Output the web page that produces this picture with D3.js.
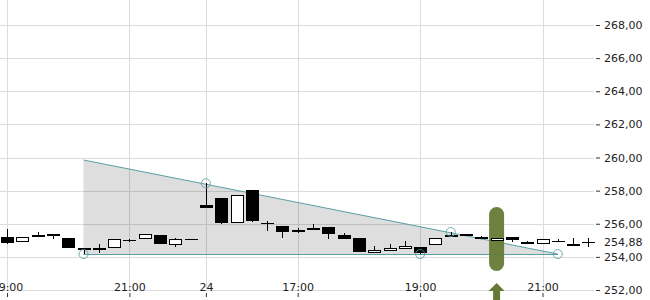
<!DOCTYPE html>
<html>
<head>
<meta charset="utf-8">
<script src="https://cdn.jsdelivr.net/npm/d3@7"></script>
<style>
  body { margin: 0; background: #fff; }
  svg { display: block; font-family: "DejaVu Sans", sans-serif; }
</style>
</head>
<body>
<svg id="chart"></svg>
<script>
// 15 minute candles, 23rd 19:00 .. 24th 21:45
const opens  = [255.18,254.89,255.18,255.38,255.12,254.54,254.40,254.52,255.00,255.06,255.32,254.74,255.06,
                257.13,257.54,256.03,258.04,256.03,255.86,255.62,255.60,255.82,255.32,255.16,254.25,254.34,254.46,
                254.61,254.72,255.32,255.36,255.20,254.98,255.18,254.90,254.76,254.96,254.78,254.88];
const highs  = [255.66,255.18,255.52,255.38,255.12,254.54,254.78,255.06,255.06,255.38,255.32,255.14,255.06,
                258.44,257.54,257.74,258.04,256.17,255.86,255.74,255.97,255.82,255.46,255.16,254.66,254.78,254.96,
                254.61,255.12,255.52,255.40,255.28,255.14,255.18,254.98,255.06,255.08,255.12,255.12];
const lows   = [254.78,254.89,255.18,255.06,254.55,254.18,254.25,254.52,254.92,255.06,254.76,254.61,255.06,
                256.93,255.97,256.03,256.09,255.58,255.16,255.42,255.60,255.06,255.06,254.31,254.25,254.34,254.46,
                254.20,254.72,255.22,255.26,255.06,254.98,254.92,254.76,254.76,254.96,254.67,254.61];
const closes = [254.86,255.18,255.32,255.24,254.55,254.40,254.55,255.06,254.99,255.38,254.76,255.08,255.06,
                256.93,256.03,257.74,256.18,256.00,255.52,255.50,255.73,255.36,255.06,254.31,254.42,254.52,254.67,
                254.25,255.12,255.22,255.28,255.06,255.14,255.02,254.76,255.06,254.96,254.67,254.88];

const xTickIdx = [0, 8, 13, 19, 27, 35];
const xTickLabels = ["19:00", "21:00", "24", "17:00", "19:00", "21:00"];
const yTicks = [252, 254, 256, 258, 260, 262, 264, 266, 268];
const lastPrice = 254.88;

// descending triangle
const triStart = 5, triEnd = 36;
const triTop = [259.85, 254.17];
const triBase = 254.17;
const anchorIdx = [5, 13, 27, 29, 36];
const anchorVals = [254.17, 258.44, 254.17, 255.50, 254.17];

// signal marker
const signalIdx = 32;
const signalRange = [253.15, 257.01];

const w = 650, h = 300;
const svg = d3.select("#chart").attr("width", w).attr("height", h);

const x = d3.scaleLinear().domain([0, opens.length - 1]).range([7, 588.4]);
const y = d3.scaleLinear().domain([252, 268]).range([290, 25]);
const fmt = (v) => d3.format(".2f")(v).replace(".", ",");
const teal = "#5a9ea6";
const olive = "#667a35";

// grid
svg.append("g").selectAll("line").data(yTicks).enter().append("line")
  .attr("x1", 0).attr("x2", 594)
  .attr("y1", (d) => Math.round(y(d)) + 0.5).attr("y2", (d) => Math.round(y(d)) + 0.5)
  .attr("stroke", "#dcdcdc");
svg.append("g").selectAll("line").data(xTickIdx).enter().append("line")
  .attr("x1", (d) => Math.round(x(d)) + 0.5).attr("x2", (d) => Math.round(x(d)) + 0.5)
  .attr("y1", 0).attr("y2", 290)
  .attr("stroke", "#dcdcdc");

// right axis
const yAxis = d3.axisRight(y).tickValues(yTicks).tickSize(4).tickPadding(4).tickFormat(fmt);
const ya = svg.append("g").attr("transform", "translate(596,0)").call(yAxis);
ya.select(".domain").remove();
ya.selectAll("line").attr("stroke", "#333");
ya.selectAll("text").attr("font-size", 11).attr("fill", "#222").attr("font-family", "DejaVu Sans");

svg.append("text").attr("x", 604).attr("y", y(lastPrice)).attr("dy", "0.32em")
  .attr("font-size", 11).attr("fill", "#222").text(fmt(lastPrice));

// bottom axis
const xAxis = d3.axisBottom(x).tickValues(xTickIdx).tickSize(4).tickPadding(0)
  .tickFormat((d, i) => xTickLabels[i]);
const xa = svg.append("g").attr("transform", "translate(0,293)").call(xAxis);
xa.select(".domain").remove();
xa.selectAll("line").attr("stroke", "#333");
xa.selectAll("text").attr("font-size", 11).attr("fill", "#222").attr("font-family", "DejaVu Sans")
  .attr("y", -2).attr("dy", 0);

// triangle
const triPts = [
  [x(triStart), y(triTop[0])],
  [x(triEnd), y(triTop[1])],
  [x(triEnd), y(triBase)],
  [x(triStart), y(triBase)]
];
svg.append("path").attr("d", d3.line()(triPts) + "Z").attr("fill", "#000").attr("fill-opacity", 0.13);
svg.append("line")
  .attr("x1", x(triStart)).attr("y1", y(triTop[0])).attr("x2", x(triEnd)).attr("y2", y(triTop[1]))
  .attr("stroke", teal).attr("stroke-width", 1);
svg.append("line")
  .attr("x1", x(triStart)).attr("y1", Math.round(y(triBase)) + 0.5)
  .attr("x2", x(triEnd)).attr("y2", Math.round(y(triBase)) + 0.5)
  .attr("stroke", teal).attr("stroke-width", 1);

// signal marker
svg.append("rect")
  .attr("x", x(signalIdx) - 7.5).attr("width", 15)
  .attr("y", y(signalRange[1])).attr("height", y(signalRange[0]) - y(signalRange[1]))
  .attr("rx", 7.5).attr("fill", olive).attr("fill-opacity", 0.95);
const ax = x(signalIdx);
svg.append("path")
  .attr("d", `M${ax},283 L${ax + 8},291 L${ax + 3.5},291 L${ax + 3.5},300 L${ax - 3.5},300 L${ax - 3.5},291 L${ax - 8},291 Z`)
  .attr("fill", olive);

// candles
const candles = svg.append("g").attr("shape-rendering", "crispEdges");
const idx = d3.range(opens.length);
const bodyTop = (i) => Math.round(y(Math.max(opens[i], closes[i])));
const bodyBot = (i) => Math.round(y(Math.min(opens[i], closes[i])));
const isDoji = (i) => bodyBot(i) - bodyTop(i) < 2;

candles.selectAll(".wick").data(idx).enter().append("line")
  .attr("x1", (i) => Math.round(x(i)) + 0.5).attr("x2", (i) => Math.round(x(i)) + 0.5)
  .attr("y1", (i) => y(highs[i])).attr("y2", (i) => y(lows[i]))
  .attr("stroke", "#000");
candles.selectAll(".body").data(idx.filter((i) => !isDoji(i))).enter().append("rect")
  .attr("x", (i) => Math.round(x(i)) - 5.5)
  .attr("width", 12)
  .attr("y", (i) => bodyTop(i) + 0.5)
  .attr("height", (i) => bodyBot(i) - bodyTop(i) - 1)
  .attr("fill", (i) => (closes[i] >= opens[i] ? "#fff" : "#000"))
  .attr("stroke", "#000");
candles.selectAll(".doji").data(idx.filter(isDoji)).enter().append("line")
  .attr("x1", (i) => Math.round(x(i)) - 6).attr("x2", (i) => Math.round(x(i)) + 7)
  .attr("y1", (i) => bodyTop(i) + 0.5).attr("y2", (i) => bodyTop(i) + 0.5)
  .attr("stroke", "#000");

// anchor circles
svg.append("g").selectAll("circle").data(anchorIdx).enter().append("circle")
  .attr("cx", (d) => x(d)).attr("cy", (d, i) => y(anchorVals[i]))
  .attr("r", 4.5).attr("fill", "none").attr("stroke", teal).attr("stroke-opacity", 0.85);
</script>
</body>
</html>
